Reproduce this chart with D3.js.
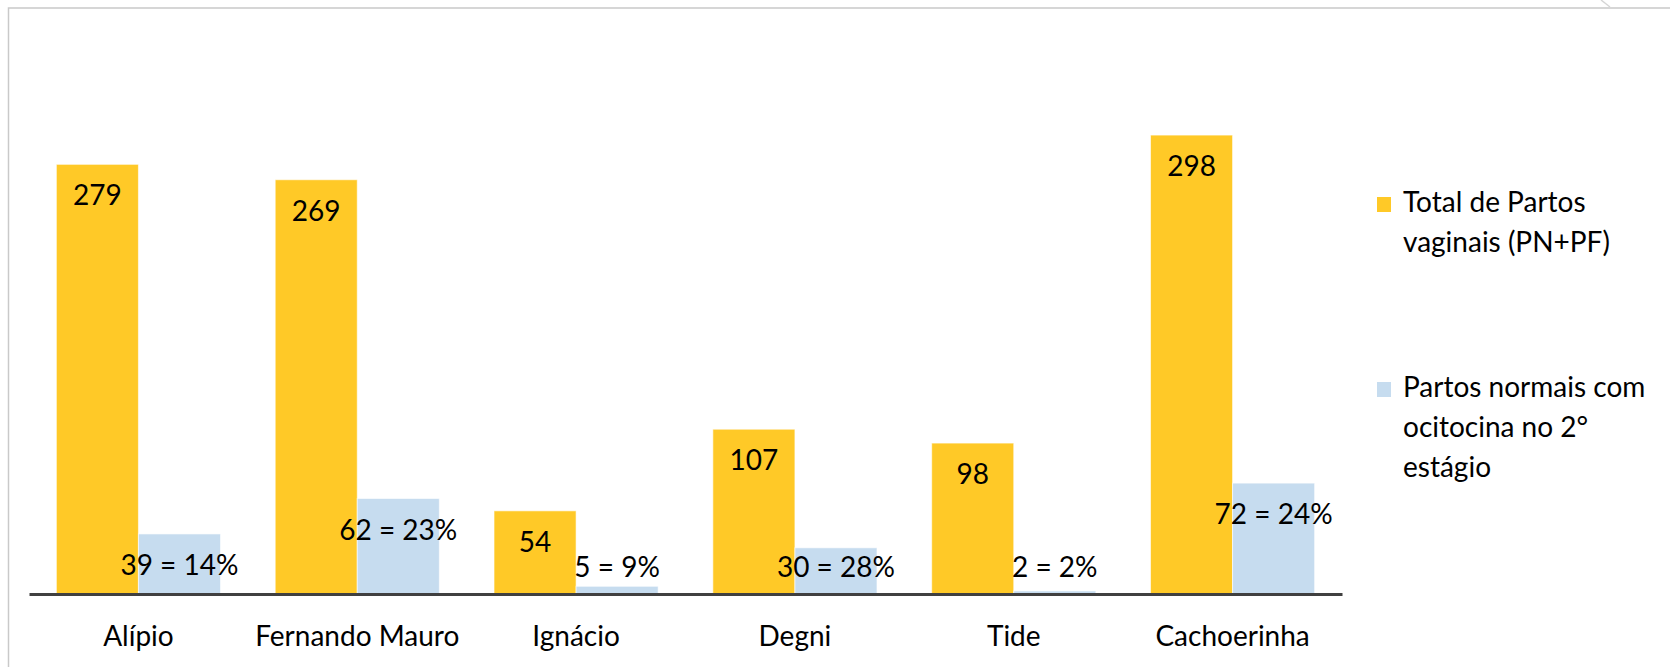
<!DOCTYPE html>
<meta charset="utf-8">
<style>
body { margin: 0; background: #fff; }
svg { display: block; font-family: Lato, "Open Sans", sans-serif; }
.axis path { stroke: #404040; stroke-width: 3px; }
.axis text { font-family: Lato, "Open Sans", sans-serif; font-size: 28px; fill: #000; }
.lbl { font-size: 28px; fill: #000; }
.leg text { font-size: 28px; fill: #000; }
</style>
<body>
<svg width="1670" height="667"></svg>
<script src="https://cdn.jsdelivr.net/npm/d3@7/dist/d3.min.js"></script>
<script>

// data
var hospitais = ["Alípio", "Fernando Mauro", "Ignácio", "Degni", "Tide", "Cachoerinha"];
var totalVaginais = [279, 269, 54, 107, 98, 298];
var ocitocina = [39, 62, 5, 30, 2, 72];
var ocitocinaPct = ["14%", "23%", "9%", "28%", "2%", "24%"];
var series = ["Total de Partos vaginais (PN+PF)", "Partos normais com ocitocina no 2° estágio"];
var legendLines = [["Total de Partos", "vaginais (PN+PF)"], ["Partos normais com", "ocitocina no 2°", "estágio"]];

var colors = ["#ffc927", "#c6dcef"];

var svg = d3.select("svg");

// outer frame (chart area border)
svg.append("rect")
    .attr("x", 8.5).attr("y", 8)
    .attr("width", 1700).attr("height", 700)
    .attr("fill", "none")
    .attr("stroke", "#c9c9c9")
    .attr("stroke-width", 1.5);
svg.append("line")
    .attr("x1", 1601).attr("y1", 0).attr("x2", 1610).attr("y2", 7)
    .attr("stroke", "#d6d6d6").attr("stroke-width", 1.5);

var baseY = 594;

var x = d3.scaleBand()
    .domain(hospitais)
    .range([29, 1342])
    .paddingInner(0.25)
    .paddingOuter(0.125);

var x1 = d3.scaleBand()
    .domain([0, 1])
    .range([0, x.bandwidth()]);

var y = d3.scaleLinear()
    .domain([0, 350])
    .range([baseY, 55]);

var rows = hospitais.map(function(h, i) {
  return {
    name: h,
    vals: [
      { s: 0, v: totalVaginais[i], label: String(totalVaginais[i]) },
      { s: 1, v: ocitocina[i], label: ocitocina[i] + " = " + ocitocinaPct[i] }
    ]
  };
});

var groups = svg.append("g").selectAll("g")
    .data(rows)
    .enter().append("g")
      .attr("transform", function(d) { return "translate(" + x(d.name) + ",0)"; });

groups.selectAll("rect")
    .data(function(d) { return d.vals; })
    .enter().append("rect")
      .attr("x", function(d) { return x1(d.s); })
      .attr("width", x1.bandwidth())
      .attr("y", function(d) { return y(d.v); })
      .attr("height", function(d) { return baseY - y(d.v); })
      .attr("fill", function(d) { return colors[d.s]; })
      .attr("stroke", "#fff")
      .attr("stroke-opacity", 0.6)
      .attr("stroke-width", 1);

// data labels, inside end, kept above the base
groups.selectAll("text")
    .data(function(d) { return d.vals; })
    .enter().append("text")
      .attr("class", "lbl")
      .attr("text-anchor", "middle")
      .attr("x", function(d) { return x1(d.s) + x1.bandwidth() / 2; })
      .attr("y", function(d) { return Math.min(y(d.v) + 41, 577); })
      .text(function(d) { return d.label; });

// category axis
var axis = svg.append("g")
    .attr("class", "axis")
    .attr("transform", "translate(0," + baseY + ")")
    .call(d3.axisBottom(x).tickSize(0).tickSizeOuter(0));
axis.attr("font-family", null).attr("font-size", null);
axis.selectAll("text").attr("y", 52).attr("dy", 0);

// legend
var leg = svg.append("g").attr("class", "leg");
var legTop = [212, 397];
series.forEach(function(s, i) {
  var g = leg.append("g");
  g.append("rect")
      .attr("x", 1377).attr("y", legTop[i] - 15)
      .attr("width", 14).attr("height", 15)
      .attr("fill", colors[i]);
  g.append("text")
      .selectAll("tspan")
      .data(legendLines[i])
      .enter().append("tspan")
        .attr("x", 1403)
        .attr("y", function(d, k) { return legTop[i] + k * 40; })
        .text(function(d) { return d; });
});

</script>
</body>
